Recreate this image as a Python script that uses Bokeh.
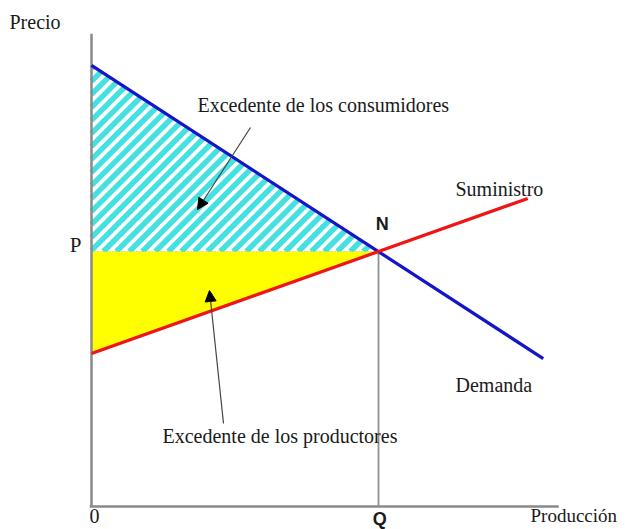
import numpy as np
from bokeh.plotting import figure
from bokeh.models import Arrow, NormalHead, Range1d
from bokeh.core.properties import value
from bokeh.embed import file_html
from bokeh.resources import INLINE

# Demand and supply curves (output, price)
demand_q = [0.0, 7.87]
demand_p = [8.65, 2.9]
supply_q = [0.0, 7.6]
supply_p = [3.0, 6.04]

# Market equilibrium N = (Q, P)
eq_q = 5.0
eq_p = 5.0

# Extent of the drawn axes
price_axis_top = 9.27
output_axis_end = 8.14

W, H = 625, 529
# canvas layout: origin at (91, 506) px, 57.4 px per output unit, 51 px per price unit
X0, Y0, SX, SY = 91, 506, 57.4, 51.0
# text baseline correction for the svg renderer, in px
TXT_SHIFT = 9


def dx(px):
    return (px - X0) / SX


def dy(py):
    return (Y0 - py) / SY


def ty(py):
    return dy(py - TXT_SHIFT)


p = figure(
    width=W, height=H,
    x_range=Range1d(dx(0), dx(W)), y_range=Range1d(dy(H), dy(0)),
    x_axis_type=None, y_axis_type=None,
    toolbar_location=None, output_backend="svg",
    min_border=0, outline_line_color=None,
    background_fill_color="white", border_fill_color="white",
)

# consumer surplus: 45-degree cyan stripes inside the triangle between demand and P
a = demand_p[0] * SY
b = (demand_p[1] - demand_p[0]) / (demand_q[1] - demand_q[0]) * SY / SX
yb = eq_p * SY
xn = eq_q * SX
hx0, hy0, hx1, hy1 = [], [], [], []
for c in np.arange(a - 3.0, yb - xn, -13.0):
    if c >= yb:
        sx, sy = 0.0, c
    else:
        sx, sy = yb - c, yb
    ex = (a - c) / (1.0 - b)
    ey = ex + c
    hx0.append(sx / SX)
    hy0.append(sy / SY)
    hx1.append(ex / SX)
    hy1.append(ey / SY)
p.segment(hx0, hy0, hx1, hy1, line_color="#45e0e0", line_width=5.5,
          line_cap="butt")

# producer surplus: yellow triangle between P and supply
p.patch(
    [0, eq_q, 0], [eq_p, eq_p, supply_p[0]],
    fill_color="#ffff00", line_color=None,
)
p.line([0, eq_q], [eq_p, eq_p], line_color="#a8b060", line_width=1,
       line_dash="1 2", line_alpha=0.7)

# axes
axis_gray = "#8a8a8a"
p.line([0, 0], [0, price_axis_top], line_color=axis_gray, line_width=2.5)
p.line([-0.03, output_axis_end], [0, 0], line_color=axis_gray, line_width=2.5)
# Q drop line
p.line([eq_q, eq_q], [0, eq_p], line_color="#909090", line_width=1.8)

# curves
p.line(demand_q, demand_p, line_color="#1414c8", line_width=3.2)
p.line(supply_q, supply_p, line_color="#f01414", line_width=3.2)

serif = value("Liberation Serif")
sans = value("Liberation Sans")


def label(x, y, txt, font=serif, size="20px", style="normal", align="left"):
    p.text(x=[x], y=[y], text=[txt], text_font=font, text_font_size=size,
           text_font_style=style, text_align=align, text_baseline="alphabetic",
           text_color="#1a1a1a")


label(dx(9), ty(30), "Precio")
label(dx(81), ty(253), "P", size="21px", align="right")
label(dx(89), ty(524), "0")
label(eq_q + 0.02, ty(527), "Q", font=sans, size="18px", style="bold",
      align="center")
label(dx(530), ty(524), "Producción", size="19px")
label(eq_q - 0.05, ty(232), "N", font=sans, size="18px", style="bold")
label(dx(455), ty(197), "Suministro")
label(dx(455), ty(393), "Demanda")
label(dx(197), ty(113), "Excedente de los consumidores")
label(dx(162), ty(444), "Excedente de los productores")

# pointer arrows to the two surplus areas
for (x1, y1, x2, y2) in [(250, 127, 197, 209), (223, 423, 209, 290)]:
    p.add_layout(Arrow(
        end=NormalHead(size=11, fill_color="black", line_color="black"),
        x_start=dx(x1), y_start=dy(y1), x_end=dx(x2), y_end=dy(y2),
        line_color="#444444", line_width=1.2,
    ))

open("out.html", "w").write(file_html(p, INLINE))
